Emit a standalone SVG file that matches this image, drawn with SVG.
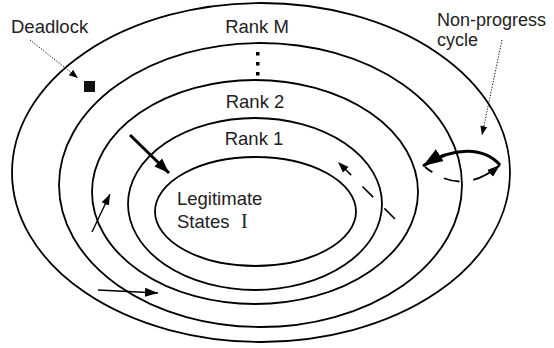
<svg xmlns="http://www.w3.org/2000/svg" width="554" height="348" viewBox="0 0 554 348">
<style>
.ring{fill:none;stroke:#000;stroke-width:1.8}
.t{font-family:"Liberation Sans",Arial,sans-serif;font-size:18.5px;fill:#222}
.s{font-size:18px}
.c{text-anchor:middle}
.ln{fill:none;stroke:#000}
.dot{fill:none;stroke:#000;stroke-width:1;stroke-dasharray:1.2 1.6}
</style>
<defs>
<marker id="hBig" markerUnits="userSpaceOnUse" markerWidth="22" markerHeight="16" refX="20" refY="8" orient="auto"><path d="M0,1 L20,8 L0,15 z"/></marker>
<marker id="hBold" markerUnits="userSpaceOnUse" markerWidth="16" markerHeight="12" refX="15" refY="6" orient="auto"><path d="M0,0.5 L15,6 L0,11.5 z"/></marker>
<marker id="hMid" markerUnits="userSpaceOnUse" markerWidth="14" markerHeight="10" refX="13" refY="5" orient="auto"><path d="M0,0.5 L13,5 L0,9.5 z"/></marker>
<marker id="hThin" markerUnits="userSpaceOnUse" markerWidth="12" markerHeight="9" refX="11" refY="4.5" orient="auto"><path d="M0,0.5 L11,4.5 L0,8.5 z"/></marker>
<marker id="hDot" markerUnits="userSpaceOnUse" markerWidth="10" markerHeight="8" refX="9" refY="4" orient="auto"><path d="M0,0.5 L9,4 L0,7.5 z"/></marker>
</defs>
<rect width="554" height="348" fill="#fff"/>
<g id="rankM">
<ellipse class="ring" cx="261" cy="172.5" rx="249" ry="169.5"/>
<text class="t c" x="257" y="33">Rank M</text>
</g>
<g id="rankDots">
<ellipse class="ring" cx="260.5" cy="185" rx="201.5" ry="142"/>
<rect x="256" y="52" width="3.5" height="3.5"/>
<rect x="256" y="62" width="3.5" height="3.5"/>
<rect x="256" y="72" width="3.5" height="3.5"/>
</g>
<g id="rank2">
<ellipse class="ring" cx="255" cy="192" rx="163" ry="112"/>
<text class="t c" x="255" y="108">Rank 2</text>
</g>
<g id="rank1">
<ellipse class="ring" cx="255" cy="204" rx="127" ry="86"/>
<text class="t c" x="254" y="145">Rank 1</text>
</g>
<g id="legitimate">
<ellipse class="ring" cx="255.5" cy="211.5" rx="100.5" ry="54.5"/>
<text class="t" x="177" y="205">Legitimate</text>
<text class="t" x="177" y="228">States <tspan x="241" font-family="'Liberation Serif','Times New Roman',serif" font-size="20">I</tspan></text>
</g>
<g id="deadlock">
<text class="t" x="11" y="33">Deadlock</text>
<rect x="84" y="81" width="11" height="11" fill="#111"/>
</g>
<g id="nonProgress">
<text class="t s" x="437" y="25.5">Non-progress</text>
<text class="t s" x="437" y="46">cycle</text>
</g>
<g id="connectors">
<line class="ln" x1="130" y1="135" x2="169" y2="173" stroke-width="3" marker-end="url(#hBold)"/>
<line class="ln" x1="92" y1="232" x2="110" y2="194" stroke-width="1.4" marker-end="url(#hThin)"/>
<line class="ln" x1="98" y1="290" x2="158" y2="293" stroke-width="1.6" marker-end="url(#hMid)"/>
<line class="ln" x1="395" y1="219" x2="338" y2="162" stroke-width="1.6" stroke-dasharray="15 16" marker-end="url(#hThin)"/>
<path class="ln" d="M500,165 C485,148 455,145 423,166" stroke-width="3.2" marker-end="url(#hBig)"/>
<path class="ln" d="M425,167 Q462,197 500,165" stroke-width="1.8" stroke-dasharray="9 13 16 14 60" marker-end="url(#hMid)"/>
<line class="dot" x1="30" y1="40" x2="78" y2="78" marker-end="url(#hDot)"/>
<line class="dot" x1="502" y1="40" x2="482" y2="135" marker-end="url(#hDot)"/>
</g>
</svg>
